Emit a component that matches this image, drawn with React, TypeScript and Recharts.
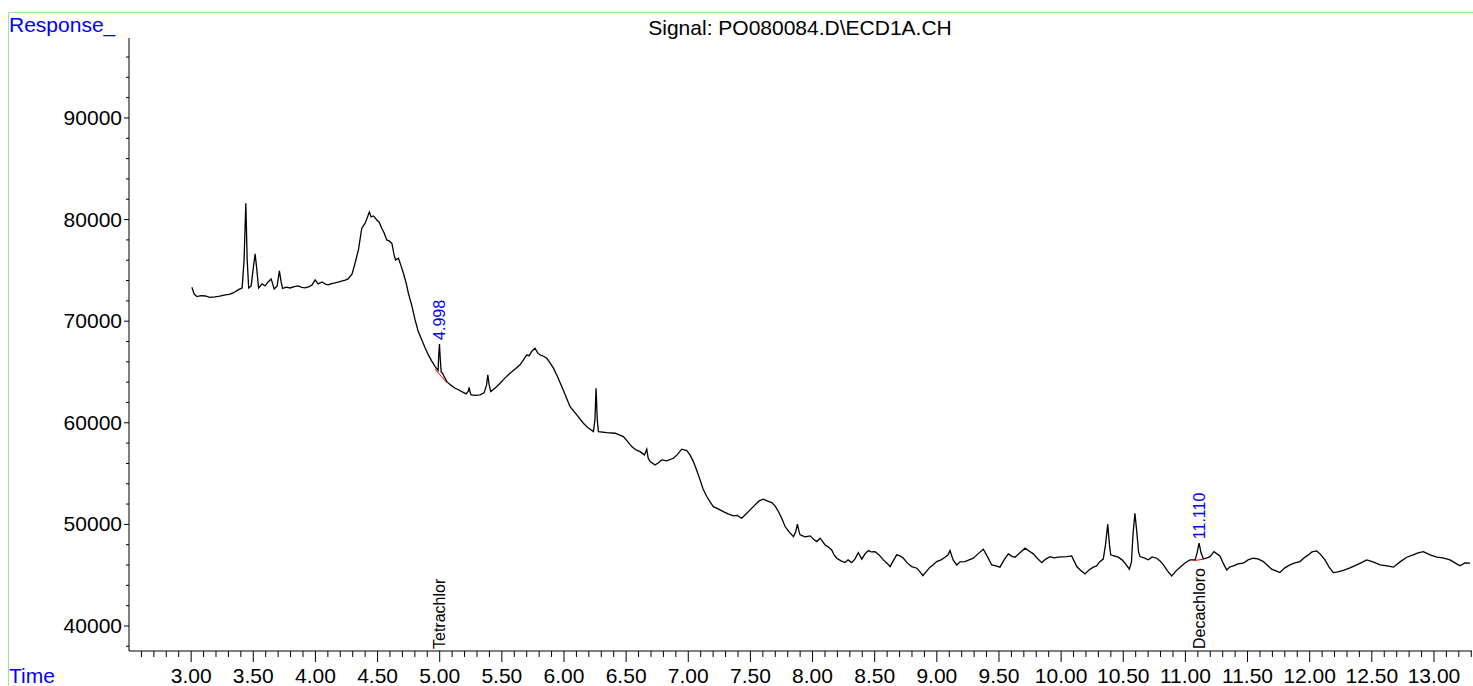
import React from 'react';
import { LineChart, Line, XAxis, YAxis, ReferenceLine, ReferenceDot } from 'recharts';

// retention time (min) and detector response
const times = [
  3.006, 3.024, 3.046, 3.08, 3.113, 3.15, 3.193, 3.23, 3.274, 3.305, 3.338, 3.378, 3.41, 3.426, 3.44, 3.451,
  3.463, 3.483, 3.503, 3.515, 3.527, 3.543, 3.571, 3.595, 3.619, 3.644, 3.668, 3.692, 3.71, 3.724, 3.736, 3.766,
  3.796, 3.83, 3.861, 3.89, 3.917, 3.95, 3.973, 3.998, 4.022, 4.054, 4.08, 4.103, 4.13, 4.159, 4.19, 4.215,
  4.24, 4.263, 4.295, 4.319, 4.346, 4.373, 4.4, 4.416, 4.434, 4.448, 4.467, 4.494, 4.512, 4.534, 4.553, 4.574,
  4.593, 4.615, 4.633, 4.645, 4.668, 4.689, 4.708, 4.73, 4.748, 4.774, 4.802, 4.826, 4.856, 4.883, 4.909, 4.935,
  4.963, 4.987, 4.992, 4.998, 5.005, 5.012, 5.022, 5.057, 5.092, 5.124, 5.15, 5.178, 5.212, 5.23, 5.237, 5.245,
  5.253, 5.285, 5.325, 5.357, 5.377, 5.387, 5.398, 5.411, 5.446, 5.486, 5.526, 5.566, 5.607, 5.647, 5.679, 5.701,
  5.719, 5.743, 5.767, 5.788, 5.808, 5.835, 5.862, 5.888, 5.915, 5.949, 5.982, 6.017, 6.049, 6.103, 6.156, 6.194,
  6.237, 6.249, 6.258, 6.268, 6.277, 6.344, 6.411, 6.478, 6.507, 6.545, 6.58, 6.612, 6.648, 6.666, 6.677, 6.693,
  6.733, 6.757, 6.787, 6.827, 6.88, 6.91, 6.948, 6.988, 7.014, 7.041, 7.067, 7.095, 7.119, 7.149, 7.175, 7.202,
  7.24, 7.282, 7.32, 7.363, 7.393, 7.43, 7.471, 7.505, 7.537, 7.57, 7.604, 7.634, 7.672, 7.698, 7.725, 7.751,
  7.779, 7.811, 7.846, 7.864, 7.878, 7.892, 7.9, 7.94, 7.981, 8.013, 8.034, 8.061, 8.101, 8.125, 8.154, 8.173,
  8.195, 8.229, 8.261, 8.286, 8.315, 8.342, 8.368, 8.396, 8.422, 8.449, 8.471, 8.503, 8.535, 8.57, 8.596, 8.624,
  8.649, 8.677, 8.704, 8.731, 8.761, 8.798, 8.839, 8.865, 8.887, 8.913, 8.945, 8.969, 8.999, 9.034, 9.066, 9.09,
  9.106, 9.131, 9.16, 9.187, 9.227, 9.259, 9.294, 9.331, 9.374, 9.404, 9.442, 9.476, 9.508, 9.541, 9.575, 9.605,
  9.629, 9.669, 9.71, 9.742, 9.776, 9.806, 9.844, 9.879, 9.911, 9.943, 9.977, 10.007, 10.045, 10.085, 10.104, 10.126,
  10.16, 10.192, 10.224, 10.259, 10.286, 10.309, 10.339, 10.357, 10.375, 10.389, 10.399, 10.425, 10.46, 10.49, 10.514, 10.549,
  10.566, 10.578, 10.594, 10.611, 10.623, 10.635, 10.667, 10.702, 10.732, 10.769, 10.796, 10.823, 10.856, 10.89, 10.925, 10.957,
  10.997, 11.037, 11.078, 11.094, 11.11, 11.126, 11.144, 11.174, 11.198, 11.23, 11.254, 11.278, 11.307, 11.332, 11.359, 11.386,
  11.423, 11.466, 11.504, 11.546, 11.584, 11.627, 11.657, 11.694, 11.728, 11.76, 11.8, 11.841, 11.881, 11.922, 11.954, 11.989,
  12.018, 12.056, 12.083, 12.123, 12.155, 12.19, 12.228, 12.271, 12.324, 12.378, 12.413, 12.459, 12.51, 12.566, 12.623, 12.674,
  12.727, 12.781, 12.832, 12.872, 12.915, 12.969, 13.023, 13.072, 13.129, 13.169, 13.209, 13.249, 13.29,
];

const responses = [
  73340, 72680, 72420, 72510, 72480, 72350, 72390, 72470, 72580, 72640, 72780, 73080, 73270, 76030, 81600, 76030,
  73270, 73470, 75540, 76620, 75240, 73270, 73670, 73470, 73860, 74160, 73170, 73470, 74950, 73860, 73220, 73350,
  73270, 73410, 73470, 73330, 73270, 73400, 73570, 74060, 73670, 73860, 73640, 73570, 73700, 73760, 73880, 73960,
  74050, 74160, 74650, 75730, 77010, 79150, 79640, 80160, 80750, 80260, 80360, 79960, 79770, 79150, 78680, 78000,
  77900, 77670, 76520, 76030, 76200, 75440, 74720, 73760, 72750, 71600, 70120, 69040, 68150, 67370, 66680, 66090,
  65530, 65150, 66600, 67760, 66200, 65000, 64880, 64050, 63680, 63400, 63250, 63070, 62840, 63100, 63480, 63000,
  62740, 62690, 62740, 62940, 63730, 64710, 63730, 63070, 63430, 63890, 64420, 64880, 65300, 65700, 66290, 66680,
  66580, 67070, 67340, 66880, 66680, 66550, 66350, 65890, 65380, 64510, 63560, 62550, 61590, 60780, 59960, 59500,
  59130, 60280, 63400, 60280, 59130, 59030, 58970, 58640, 58220, 57660, 57330, 57160, 56840, 57400, 56540, 56180,
  55850, 56050, 56350, 56250, 56510, 56840, 57400, 57260, 56840, 56180, 55360, 54380, 53490, 52740, 52210, 51750,
  51530, 51260, 51030, 50840, 50890, 50610, 51100, 51530, 51920, 52310, 52480, 52310, 52150, 51820, 51270, 50640,
  49790, 49260, 48800, 49260, 50020, 49260, 48970, 48770, 48870, 48480, 48310, 48640, 47980, 47790, 47490, 47000,
  46670, 46410, 46240, 46510, 46240, 46610, 47230, 46580, 47100, 47420, 47290, 47320, 47000, 46510, 46210, 45850,
  46410, 47000, 46900, 46670, 46210, 45850, 45690, 45330, 44960, 45330, 45790, 46010, 46340, 46510, 46770, 47000,
  47420, 46510, 46010, 46310, 46340, 46510, 46670, 47100, 47560, 46900, 46010, 45920, 45790, 46510, 47100, 46850,
  46770, 47200, 47660, 47390, 47100, 46700, 46240, 46610, 46830, 46700, 46770, 46800, 46830, 46900, 46410, 45850,
  45430, 45130, 45520, 45790, 45920, 46310, 46580, 47980, 50020, 47980, 47000, 46900, 46770, 46510, 46180, 45590,
  46310, 48970, 51100, 48970, 47290, 46830, 46700, 46510, 46800, 46670, 46410, 46010, 45430, 44930, 45430, 45790,
  46210, 46510, 46510, 47200, 48150, 47200, 46610, 46700, 46830, 47320, 47100, 46900, 46110, 45520, 45820, 45920,
  46110, 46180, 46510, 46670, 46610, 46340, 46010, 45590, 45430, 45260, 45720, 46010, 46210, 46340, 46700, 47000,
  47290, 47390, 47100, 46510, 45820, 45260, 45330, 45470, 45720, 46010, 46210, 46510, 46310, 46010, 45920, 45790,
  46310, 46770, 47000, 47200, 47320, 47000, 46770, 46700, 46510, 46210, 45920, 46210, 46180,
];

// integrated peaks
const peakTimes = [4.998, 11.11];
const peakTops = [67760, 48150];
const compoundNames = ['Tetrachlor', 'Decachloro'];
const baselineStarts = [[4.963, 65270], [11.064, 46440]];
const baselineEnds = [[5.057, 63950], [11.15, 46575]];

const yTicks: number[] = [];
for (let v = 38000; v <= 96000; v += 2000) yTicks.push(v);
const xTicks: number[] = [];
for (let i = 26; i <= 133; i++) xTicks.push(i / 10);

const FONT = '"Liberation Sans", Arial, sans-serif';
const BLUE = '#0000ff';

const data = times.map((t, i) => ({ t, v: responses[i] }));

const XTick = ({ x, y, payload }: any) => {
  const val = Math.round(payload.value * 10);
  const major = val % 5 === 0;
  return (
    <g>
      <line x1={x} y1={y} x2={x} y2={y + (major ? 11 : 6)} stroke="#000" />
      {major && (
        <text x={x} y={y + 32} textAnchor="middle" fontSize={21} fontFamily={FONT} fill="#000">
          {(val / 10).toFixed(2)}
        </text>
      )}
    </g>
  );
};

const YTick = ({ x, y, payload }: any) => {
  const major = payload.value % 10000 === 0;
  return (
    <g>
      <line x1={x - (major ? 5 : 3)} y1={y} x2={x} y2={y} stroke="#000" />
      {major && (
        <text x={x - 7} y={y + 7} textAnchor="end" fontSize={21} fontFamily={FONT} fill="#000">
          {payload.value}
        </text>
      )}
    </g>
  );
};

const peakLabel = (text: string) => (p: any) => (
  <text
    x={p.cx}
    y={p.cy - 4}
    transform={`rotate(-90 ${p.cx} ${p.cy - 4})`}
    dy="0.35em"
    fontSize={16}
    fontFamily={FONT}
    fill={BLUE}
  >
    {text}
  </text>
);

const nameLabel = (text: string) => (p: any) => (
  <text
    x={p.cx}
    y={p.cy - 2}
    transform={`rotate(-90 ${p.cx} ${p.cy - 2})`}
    dy="0.35em"
    fontSize={16}
    fontFamily={FONT}
    fill="#000"
  >
    {text}
  </text>
);

export default function App() {
  return (
    <div style={{ position: 'absolute', left: 0, top: 0, width: 1473, height: 686, overflow: 'hidden', background: '#fff' }}>
      <LineChart width={1473} height={686} data={data} margin={{ top: 38, right: 1, bottom: 0, left: 0 }}>
        <XAxis
          dataKey="t"
          type="number"
          domain={[2.5, 13.306]}
          allowDataOverflow
          ticks={xTicks}
          interval={0}
          height={35}
          tickSize={0}
          tickMargin={0}
          tick={<XTick />}
          axisLine={{ stroke: '#000' }}
        />
        <YAxis
          type="number"
          domain={[37540, 97870]}
          allowDataOverflow
          ticks={yTicks}
          interval={0}
          width={129}
          tickSize={0}
          tickMargin={0}
          tick={<YTick />}
          axisLine={{ stroke: '#000' }}
        />
        <Line
          type="linear"
          dataKey="v"
          stroke="#000"
          strokeWidth={1.3}
          dot={false}
          isAnimationActive={false}
        />
        {peakTimes.map((pt, i) => (
          <ReferenceLine
            key={`bl-${i}`}
            segment={[
              { x: baselineStarts[i][0], y: baselineStarts[i][1] },
              { x: baselineEnds[i][0], y: baselineEnds[i][1] },
            ]}
            stroke="#ff0000"
            strokeWidth={1}
          />
        ))}
        {peakTimes.map((pt, i) => (
          <ReferenceDot
            key={`pk-${i}`}
            x={pt}
            y={peakTops[i]}
            r={1}
            shape={peakLabel(pt.toFixed(3))}
          />
        ))}
        {peakTimes.map((pt, i) => (
          <ReferenceDot
            key={`nm-${i}`}
            x={pt}
            y={37540}
            r={1}
            ifOverflow="visible"
            shape={nameLabel(compoundNames[i])}
          />
        ))}
      </LineChart>
      <svg width={1473} height={686} style={{ position: 'absolute', left: 0, top: 0, pointerEvents: 'none' }}>
        <line x1={8.5} y1={12.5} x2={1473} y2={12.5} stroke="#90ee90" />
        <line x1={8.5} y1={12.5} x2={8.5} y2={686} stroke="#90ee90" />
        <text x={9} y={31.5} fontSize={21} fontFamily={FONT} fill={BLUE}>Response_</text>
        <text x={9} y={683} fontSize={21} fontFamily={FONT} fill={BLUE}>Time</text>
        <text x={800} y={35} textAnchor="middle" fontSize={21} fontFamily={FONT} fill="#000">
          Signal: PO080084.D\ECD1A.CH
        </text>
      </svg>
    </div>
  );
}
